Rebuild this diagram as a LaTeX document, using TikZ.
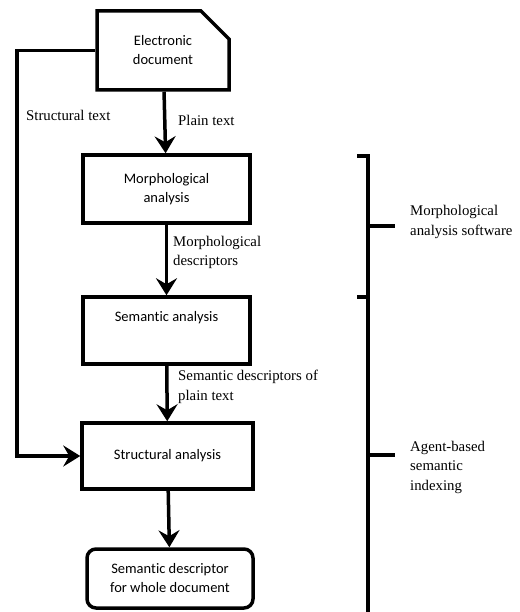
\documentclass[tikz,border=0pt]{standalone}
\usepackage{fontspec}
\setmainfont{Liberation Serif}
\newfontfamily\boxfont[Ligatures=NoCommon]{Carlito}
\usetikzlibrary{shapes.misc,arrows.meta}
\tikzstyle{step box}=[draw, line width=3.5pt, text centered, align=center,
font=\boxfont\fontsize{14.5}{19}\selectfont]
\tikzstyle{doc}=[step box, chamfered rectangle, chamfered rectangle corners=north east,
chamfered rectangle xsep=14pt, chamfered rectangle ysep=14pt,
minimum width=132pt, minimum height=79pt, inner sep=0pt]
\tikzstyle{label}=[anchor=west, align=left, inner sep=0pt,
font=\fontsize{14.8}{19.5}\selectfont]
\tikzstyle{flow}=[line width=3.5pt, -{Stealth[length=17pt,width=21pt,inset=6pt]}]

\begin{document}
\begin{tikzpicture}[x=1pt,y=-1pt]
\useasboundingbox (0,0) rectangle (519,612);
% boxes
\node[doc](edoc) at (163,50.5){Electronic\\document};
\node[step box, minimum width=167pt, minimum height=68pt](morph) at (166.5,189){Morphological\\analysis};
\node[step box, minimum width=167pt, minimum height=67pt](sem) at (166.5,330.5){Semantic analysis\\[10pt]};
\node[step box, minimum width=171pt, minimum height=66pt](struct) at (167.5,456){Structural analysis};
\node[step box, rounded corners=9pt, minimum width=166pt, minimum height=59pt](result) at (170,578.5){Semantic descriptor\\for whole document};
% labels
\node[label](lstruct) at (26,115){Structural text};
\node[label](lplain) at (178,120){Plain text};
\node[label](lmorph) at (173,252.5){Morphological\\descriptors};
\node[label](lsem) at (178,387){Semantic descriptors of\\plain text};
\node[label](lsoft) at (410,222){Morphological\\analysis software};
\node[label](lagent) at (410,467){Agent-based\\semantic\\indexing};
% connectors
\coordinate (bend) at (17,50.5);
\draw[flow](edoc) -- (morph);
\draw[flow](morph) -- (sem);
\draw[flow](sem) -- (struct);
\draw[flow](struct) -- (result);
\draw[flow](edoc.west) -- (bend) |- (struct.west);
% braces
\draw[line width=3.5pt](357,156) -- (368,156) -- (368,297) -- (357,297);
\draw[line width=3.5pt](368,226) -- (395,226);
\draw[line width=3.5pt](368,297) -- (368,614);
\draw[line width=3.5pt](368,455) -- (395,455);
\end{tikzpicture}
\end{document}
